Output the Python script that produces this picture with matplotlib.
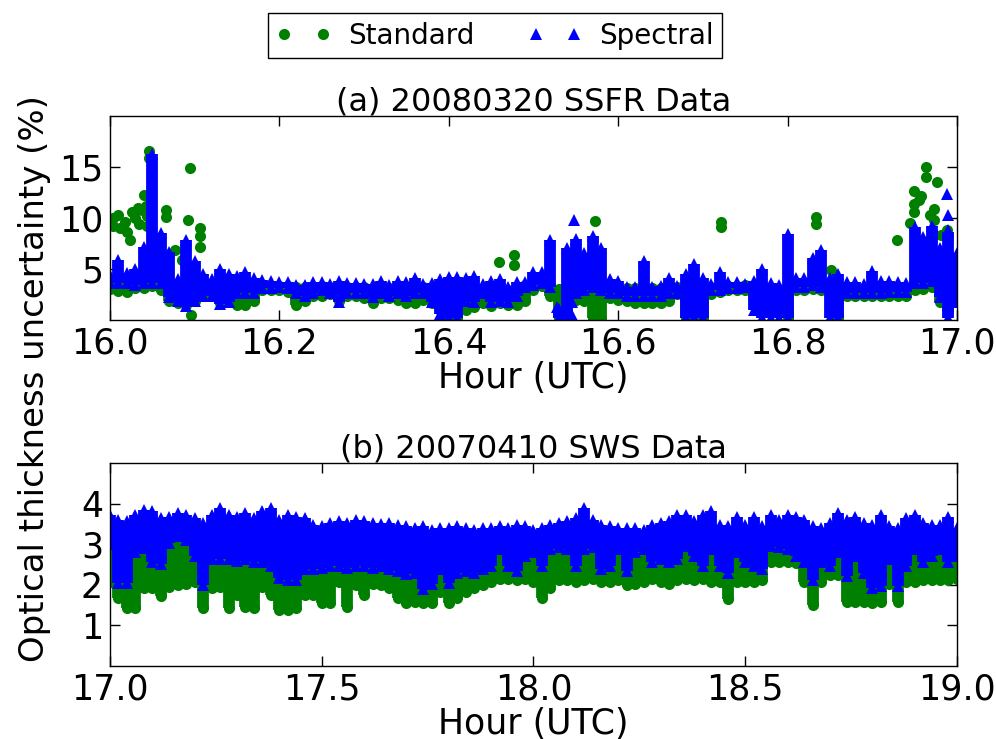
import matplotlib
matplotlib.use('Agg')
import matplotlib.pyplot as plt

# ---- (a) 20080320 SSFR, band edges read every 0.01 h ----
ssfr_hour = [16.00, 16.01, 16.02, 16.03, 16.04, 16.05, 16.06, 16.07, 16.08, 16.09,
             16.10, 16.11, 16.12, 16.13, 16.14, 16.15, 16.16, 16.17, 16.18, 16.19,
             16.20, 16.21, 16.22, 16.23, 16.24, 16.25, 16.26, 16.27, 16.28, 16.29,
             16.30, 16.31, 16.32, 16.33, 16.34, 16.35, 16.36, 16.37, 16.38, 16.39,
             16.40, 16.41, 16.42, 16.43, 16.44, 16.45, 16.46, 16.47, 16.48, 16.49,
             16.50, 16.51, 16.52, 16.53, 16.54, 16.55, 16.56, 16.57, 16.58, 16.59,
             16.60, 16.61, 16.62, 16.63, 16.64, 16.65, 16.66, 16.67, 16.68, 16.69,
             16.70, 16.71, 16.72, 16.73, 16.74, 16.75, 16.76, 16.77, 16.78, 16.79,
             16.80, 16.81, 16.82, 16.83, 16.84, 16.85, 16.86, 16.87, 16.88, 16.89,
             16.90, 16.91, 16.92, 16.93, 16.94, 16.95, 16.96, 16.97, 16.98, 16.99,
             17.00]
ssfr_spec_hi = [4.4, 5.9, 4.6, 5.0, 7.2, 16.3, 8.5, 6.7, 4.0, 7.8,
                5.8, 4.5, 4.0, 5.0, 4.5, 4.3, 4.7, 4.1, 3.9, 3.8,
                3.7, 3.7, 3.4, 3.4, 3.7, 3.7, 3.5, 3.8, 3.6, 3.6,
                3.5, 3.5, 3.8, 3.4, 3.8, 3.7, 4.1, 3.5, 3.6, 4.0,
                4.2, 4.2, 4.1, 4.3, 3.5, 3.8, 4.0, 3.2, 3.7, 3.7,
                4.7, 4.7, 7.8, 1.1, 7.1, 7.9, 6.6, 8.2, 7.1, 4.0,
                3.8, 3.2, 3.2, 5.8, 3.2, 3.3, 4.1, 3.3, 4.5, 5.5,
                4.1, 3.5, 4.7, 3.7, 3.7, 3.5, 3.8, 5.0, 3.6, 3.4,
                8.4, 4.1, 4.1, 6.1, 6.9, 4.1, 4.5, 3.7, 3.7, 3.5,
                4.8, 3.8, 3.8, 3.7, 3.6, 9.1, 8.1, 9.2, 7.1, 8.6,
                6.6]
ssfr_spec_lo = [3.6, 3.6, 3.6, 3.4, 3.6, 3.6, 3.6, 2.3, 1.9, 1.4,
                1.9, 2.4, 2.4, 1.6, 1.8, 2.6, 2.6, 2.6, 3.1, 3.1,
                3.2, 3.1, 2.6, 2.4, 2.6, 2.9, 2.6, 1.8, 2.6, 2.6,
                2.6, 2.3, 2.6, 2.4, 2.6, 2.4, 2.6, 2.6, 1.8, 0.6,
                0.2, 0.2, 1.9, 1.8, 2.6, 1.8, 1.9, 1.8, 2.4, 3.2,
                3.4, 3.6, 3.2, 0.2, 0.3, 2.6, 2.9, 3.2, 2.9, 2.6,
                2.6, 2.4, 2.4, 2.4, 2.4, 2.4, 2.6, 2.6, 0.2, 0.2,
                0.2, 2.9, 2.9, 3.1, 3.1, 3.2, 1.0, 0.2, 0.2, 0.2,
                0.2, 3.2, 3.2, 3.4, 3.2, 0.2, 0.2, 2.6, 2.6, 2.6,
                2.6, 2.6, 2.7, 2.7, 2.7, 3.6, 3.6, 3.8, 2.3, 0.2,
                1.8]
ssfr_std_hi = [3.7, 3.7, 3.7, 3.5, 3.7, 3.7, 3.7, 3.3, 3.2, 3.2,
               3.3, 3.3, 3.3, 3.2, 3.2, 3.3, 3.3, 3.3, 3.3, 3.3,
               3.3, 3.3, 3.2, 3.2, 3.2, 3.3, 3.2, 3.1, 3.2, 3.2,
               3.2, 3.1, 3.2, 3.1, 3.2, 3.1, 3.2, 3.2, 3.0, 2.4,
               2.2, 2.2, 2.8, 2.9, 3.1, 2.9, 3.0, 2.9, 3.1, 3.4,
               3.5, 3.7, 3.4, 3.0, 3.0, 3.2, 3.3, 3.4, 3.3, 3.2,
               3.2, 3.1, 3.1, 3.1, 3.1, 3.1, 3.2, 3.2, 2.4, 2.4,
               2.4, 3.2, 3.2, 3.3, 3.3, 3.4, 2.8, 2.5, 2.5, 2.5,
               2.6, 3.4, 3.4, 3.5, 3.4, 3.2, 2.8, 3.1, 3.1, 3.1,
               3.1, 3.1, 3.1, 3.1, 3.1, 3.9, 3.9, 3.9, 3.0, 2.5,
               2.6]
ssfr_std_lo = [3.0, 2.8, 2.7, 3.1, 3.1, 3.3, 2.9, 1.9, 1.7, 1.5,
               1.9, 2.4, 2.4, 1.7, 1.9, 1.5, 1.5, 1.9, 2.9, 2.9,
               2.9, 2.7, 1.5, 1.9, 2.4, 2.4, 2.5, 1.9, 2.4, 2.4,
               2.2, 1.7, 2.2, 2.2, 2.0, 1.7, 1.7, 2.0, 1.7, 1.0,
               0.2, 0.2, 1.0, 1.3, 1.7, 1.4, 1.7, 1.5, 1.5, 1.9,
               2.9, 3.3, 2.4, 0.2, 0.3, 2.0, 1.9, 0.2, 0.2, 2.2,
               2.0, 1.9, 1.7, 1.7, 1.7, 1.7, 1.9, 2.5, 0.2, 0.2,
               0.2, 2.5, 2.7, 2.9, 2.9, 2.9, 2.0, 2.0, 2.0, 1.4,
               0.2, 2.9, 2.9, 3.0, 2.9, 2.9, 0.2, 2.4, 2.4, 2.4,
               2.4, 2.4, 2.4, 2.4, 2.4, 2.9, 3.0, 3.2, 1.8, 0.9,
               1.9]
# isolated points outside the bands
ssfr_std_out_hour = [16.004, 16.004, 16.010, 16.012, 16.018, 16.020, 16.024, 16.026,
                     16.030, 16.033, 16.034, 16.038, 16.040, 16.042, 16.044, 16.044,
                     16.046, 16.046, 16.066, 16.066, 16.077, 16.085, 16.092, 16.094,
                     16.096, 16.106, 16.106, 16.106, 16.459, 16.4765, 16.4765, 16.573,
                     16.722, 16.722, 16.833, 16.833, 16.851, 16.929, 16.945, 16.949,
                     16.949, 16.949, 16.955, 16.957, 16.964, 16.964, 16.968, 16.973,
                     16.973, 16.976, 16.981, 16.988]
ssfr_std_out_val = [10.0, 9.2, 10.3, 9.0, 9.6, 8.6, 7.8, 10.6,
                    10.0, 11.0, 9.4, 10.8, 12.3, 11.2, 10.2, 9.2,
                    16.6, 15.9, 10.8, 10.1, 6.9, 5.9, 9.8, 14.9,
                    0.5, 9.0, 8.2, 7.2, 5.7, 6.4, 5.4, 9.7,
                    9.6, 9.1, 10.1, 9.4, 4.9, 7.8, 9.5, 12.6,
                    11.4, 10.6, 11.8, 12.2, 15.0, 14.0, 10.3, 10.9,
                    9.8, 13.5, 8.3, 8.8]
ssfr_spec_out_hour = [16.5474, 16.5277, 16.535, 16.545, 16.545, 16.9884, 16.990, 16.990, 16.990]
ssfr_spec_out_val = [9.8, 1.3, 0.6, 1.8, 0.5, 12.4, 10.3, 8.8, 7.2]

# ---- (b) 20070410 SWS, band edges read every 0.02 h ----
sws_hour = [17.00, 17.02, 17.04, 17.06, 17.08, 17.10, 17.12, 17.14, 17.16, 17.18,
            17.20, 17.22, 17.24, 17.26, 17.28, 17.30, 17.32, 17.34, 17.36, 17.38,
            17.40, 17.42, 17.44, 17.46, 17.48, 17.50, 17.52, 17.54, 17.56, 17.58,
            17.60, 17.62, 17.64, 17.66, 17.68, 17.70, 17.72, 17.74, 17.76, 17.78,
            17.80, 17.82, 17.84, 17.86, 17.88, 17.90, 17.92, 17.94, 17.96, 17.98,
            18.00, 18.02, 18.04, 18.06, 18.08, 18.10, 18.12, 18.14, 18.16, 18.18,
            18.20, 18.22, 18.24, 18.26, 18.28, 18.30, 18.32, 18.34, 18.36, 18.38,
            18.40, 18.42, 18.44, 18.46, 18.48, 18.50, 18.52, 18.54, 18.56, 18.58,
            18.60, 18.62, 18.64, 18.66, 18.68, 18.70, 18.72, 18.74, 18.76, 18.78,
            18.80, 18.82, 18.84, 18.86, 18.88, 18.90, 18.92, 18.94, 18.96, 18.98,
            19.00]
sws_spec_hi = [3.72, 3.60, 3.56, 3.72, 3.85, 3.81, 3.64, 3.68, 3.76, 3.72,
               3.64, 3.52, 3.72, 3.89, 3.72, 3.68, 3.76, 3.64, 3.81, 3.88,
               3.60, 3.72, 3.68, 3.64, 3.48, 3.44, 3.52, 3.56, 3.52, 3.60,
               3.56, 3.52, 3.49, 3.52, 3.48, 3.44, 3.39, 3.44, 3.35, 3.41,
               3.39, 3.44, 3.39, 3.35, 3.39, 3.41, 3.44, 3.39, 3.48, 3.44,
               3.35, 3.39, 3.48, 3.52, 3.56, 3.64, 3.89, 3.60, 3.48, 3.44,
               3.39, 3.41, 3.39, 3.35, 3.48, 3.52, 3.56, 3.72, 3.72, 3.56,
               3.72, 3.81, 3.48, 3.44, 3.68, 3.48, 3.68, 3.44, 3.72, 3.60,
               3.72, 3.68, 3.60, 3.44, 3.39, 3.52, 3.76, 3.60, 3.68, 3.52,
               3.48, 3.72, 3.44, 3.39, 3.64, 3.72, 3.52, 3.48, 3.48, 3.68,
               3.39]
sws_spec_lo = [3.00, 2.05, 2.05, 2.80, 2.90, 2.55, 2.50, 3.04, 3.20, 3.10,
               2.70, 2.00, 2.63, 2.63, 2.63, 2.59, 2.63, 2.55, 2.55, 2.47,
               2.17, 2.13, 2.13, 2.38, 2.38, 2.42, 2.47, 2.47, 2.42, 2.47,
               2.47, 2.42, 2.47, 2.38, 2.34, 2.26, 2.30, 1.89, 2.01, 2.38,
               2.05, 2.30, 2.34, 2.30, 2.38, 2.47, 2.88, 2.47, 2.34, 2.71,
               2.80, 2.47, 2.88, 2.92, 2.88, 2.47, 2.88, 2.92, 2.38, 2.47,
               2.88, 2.34, 2.80, 2.88, 2.55, 2.63, 2.55, 2.63, 2.96, 2.71,
               2.47, 2.88, 2.47, 2.30, 2.80, 2.55, 2.47, 2.38, 2.96, 2.92,
               2.88, 2.71, 2.55, 2.13, 2.55, 2.47, 2.80, 2.22, 2.71, 2.30,
               1.93, 1.97, 2.63, 1.97, 2.47, 2.88, 2.55, 2.71, 2.88, 2.55,
               2.71]
sws_std_hi = [3.00, 3.00, 3.00, 3.00, 3.00, 3.00, 3.00, 3.05, 3.20, 3.20,
              3.00, 3.00, 3.00, 3.00, 3.00, 3.00, 3.00, 3.00, 3.00, 3.00,
              3.00, 3.00, 3.00, 3.00, 3.00, 3.00, 3.00, 3.00, 3.00, 3.00,
              3.00, 3.00, 2.95, 2.95, 2.95, 2.95, 2.95, 2.95, 2.95, 2.95,
              2.95, 2.95, 2.95, 2.95, 2.95, 2.95, 2.95, 2.95, 2.95, 2.95,
              2.95, 2.95, 2.95, 2.95, 2.95, 2.95, 2.95, 2.95, 2.95, 2.95,
              2.95, 2.95, 2.95, 2.95, 2.95, 2.95, 2.95, 2.95, 2.96, 2.95,
              2.95, 2.95, 2.95, 2.95, 2.95, 2.95, 2.95, 2.95, 2.96, 2.95,
              2.95, 2.95, 2.95, 2.95, 2.95, 2.95, 2.95, 2.95, 2.95, 2.95,
              2.95, 2.95, 2.95, 2.95, 2.95, 2.95, 2.95, 2.95, 2.95, 2.95,
              2.95]
sws_std_lo = [2.07, 1.67, 1.42, 1.42, 1.91, 1.91, 1.72, 1.95, 1.99, 2.03,
              2.07, 1.42, 1.91, 1.95, 1.42, 1.75, 1.46, 1.42, 1.95, 1.75,
              1.38, 1.38, 1.42, 1.75, 1.75, 1.54, 1.54, 2.07, 1.46, 1.99,
              1.75, 2.02, 1.99, 1.91, 1.67, 1.54, 1.58, 1.54, 1.54, 1.83,
              1.54, 1.67, 1.83, 1.91, 1.99, 2.07, 2.15, 2.15, 2.11, 2.15,
              2.07, 1.67, 1.91, 2.11, 2.11, 2.07, 2.11, 2.15, 2.07, 2.07,
              2.11, 1.99, 2.03, 2.07, 2.15, 2.07, 2.03, 2.11, 2.15, 2.11,
              2.15, 2.07, 2.07, 1.66, 2.07, 2.07, 2.07, 2.11, 2.57, 2.57,
              2.57, 2.53, 2.07, 1.50, 2.07, 2.24, 2.24, 1.58, 1.58, 1.58,
              1.54, 1.58, 2.03, 1.58, 2.07, 2.07, 2.11, 2.11, 2.11, 2.11,
              2.15]

GREEN = (0.0, 0.5, 0.0)
BLUE = (0.0, 0.0, 1.0)
MS = 8.0
LW = 8.5

plt.rcParams['font.family'] = ['DejaVu Sans']

fig = plt.figure(figsize=(9.96, 7.39), dpi=100)
ax1 = fig.add_axes([0.1104, 0.567, 0.8504, 0.276])
ax2 = fig.add_axes([0.1104, 0.0988, 0.8504, 0.2747])


def draw_band(ax, hour, lo, hi, color, marker):
    ax.vlines(hour, lo, hi, colors=[color], linewidth=LW, zorder=2)
    ax.plot(hour, lo, marker, color=color, ms=MS, mew=0, zorder=2)
    ax.plot(hour, hi, marker, color=color, ms=MS, mew=0, zorder=2)


draw_band(ax1, ssfr_hour, ssfr_std_lo, ssfr_std_hi, GREEN, 'o')
ax1.plot(ssfr_std_out_hour, ssfr_std_out_val, 'o', color=GREEN, ms=MS, mew=0)
draw_band(ax1, ssfr_hour, ssfr_spec_lo, ssfr_spec_hi, BLUE, '^')
ax1.plot(ssfr_spec_out_hour, ssfr_spec_out_val, '^', color=BLUE, ms=MS, mew=0)

draw_band(ax2, sws_hour, sws_std_lo, sws_std_hi, GREEN, 'o')
draw_band(ax2, sws_hour, sws_spec_lo, sws_spec_hi, BLUE, '^')

ax1.set_xlim(16.0, 17.0)
ax1.set_ylim(0, 20)
ax1.set_xticks([16.0, 16.2, 16.4, 16.6, 16.8, 17.0])
ax1.set_xticklabels(['16.0', '16.2', '16.4', '16.6', '16.8', '17.0'])
ax1.set_yticks([5, 10, 15])
ax1.set_title('(a) 20080320 SSFR Data', fontsize=23, pad=4)
ax1.set_xlabel('Hour (UTC)', fontsize=25, labelpad=0)

ax2.set_xlim(17.0, 19.0)
ax2.set_ylim(0, 5)
ax2.set_xticks([17.0, 17.5, 18.0, 18.5, 19.0])
ax2.set_xticklabels(['17.0', '17.5', '18.0', '18.5', '19.0'])
ax2.set_yticks([1, 2, 3, 4])
ax2.set_title('(b) 20070410 SWS Data', fontsize=23, pad=4)
ax2.set_xlabel('Hour (UTC)', fontsize=25, labelpad=0)

for ax in (ax1, ax2):
    ax.tick_params(direction='in', length=7, width=1, top=True, right=True,
                   labelsize=25, pad=5)
    for sp in ax.spines.values():
        sp.set_linewidth(1.0)

fig.text(0.035, 0.488, 'Optical thickness uncertainty (%)', rotation=90,
         fontsize=24.5, ha='center', va='center')

std_h = plt.Line2D([], [], linestyle='none', marker='o', color=GREEN, ms=MS, mew=0)
spec_h = plt.Line2D([], [], linestyle='none', marker='^', color=BLUE, ms=MS, mew=0)
leg = fig.legend([std_h, spec_h], ['Standard', 'Spectral'], loc='upper center',
                 bbox_to_anchor=(0.497, 0.982), ncol=2, numpoints=2,
                 fontsize=20, fancybox=False, framealpha=1, edgecolor='black',
                 borderpad=0.3, columnspacing=1.9, handlelength=2.0,
                 handletextpad=0.6, borderaxespad=0)
leg.get_frame().set_linewidth(1.0)

fig.savefig('out.png', dpi=100)
